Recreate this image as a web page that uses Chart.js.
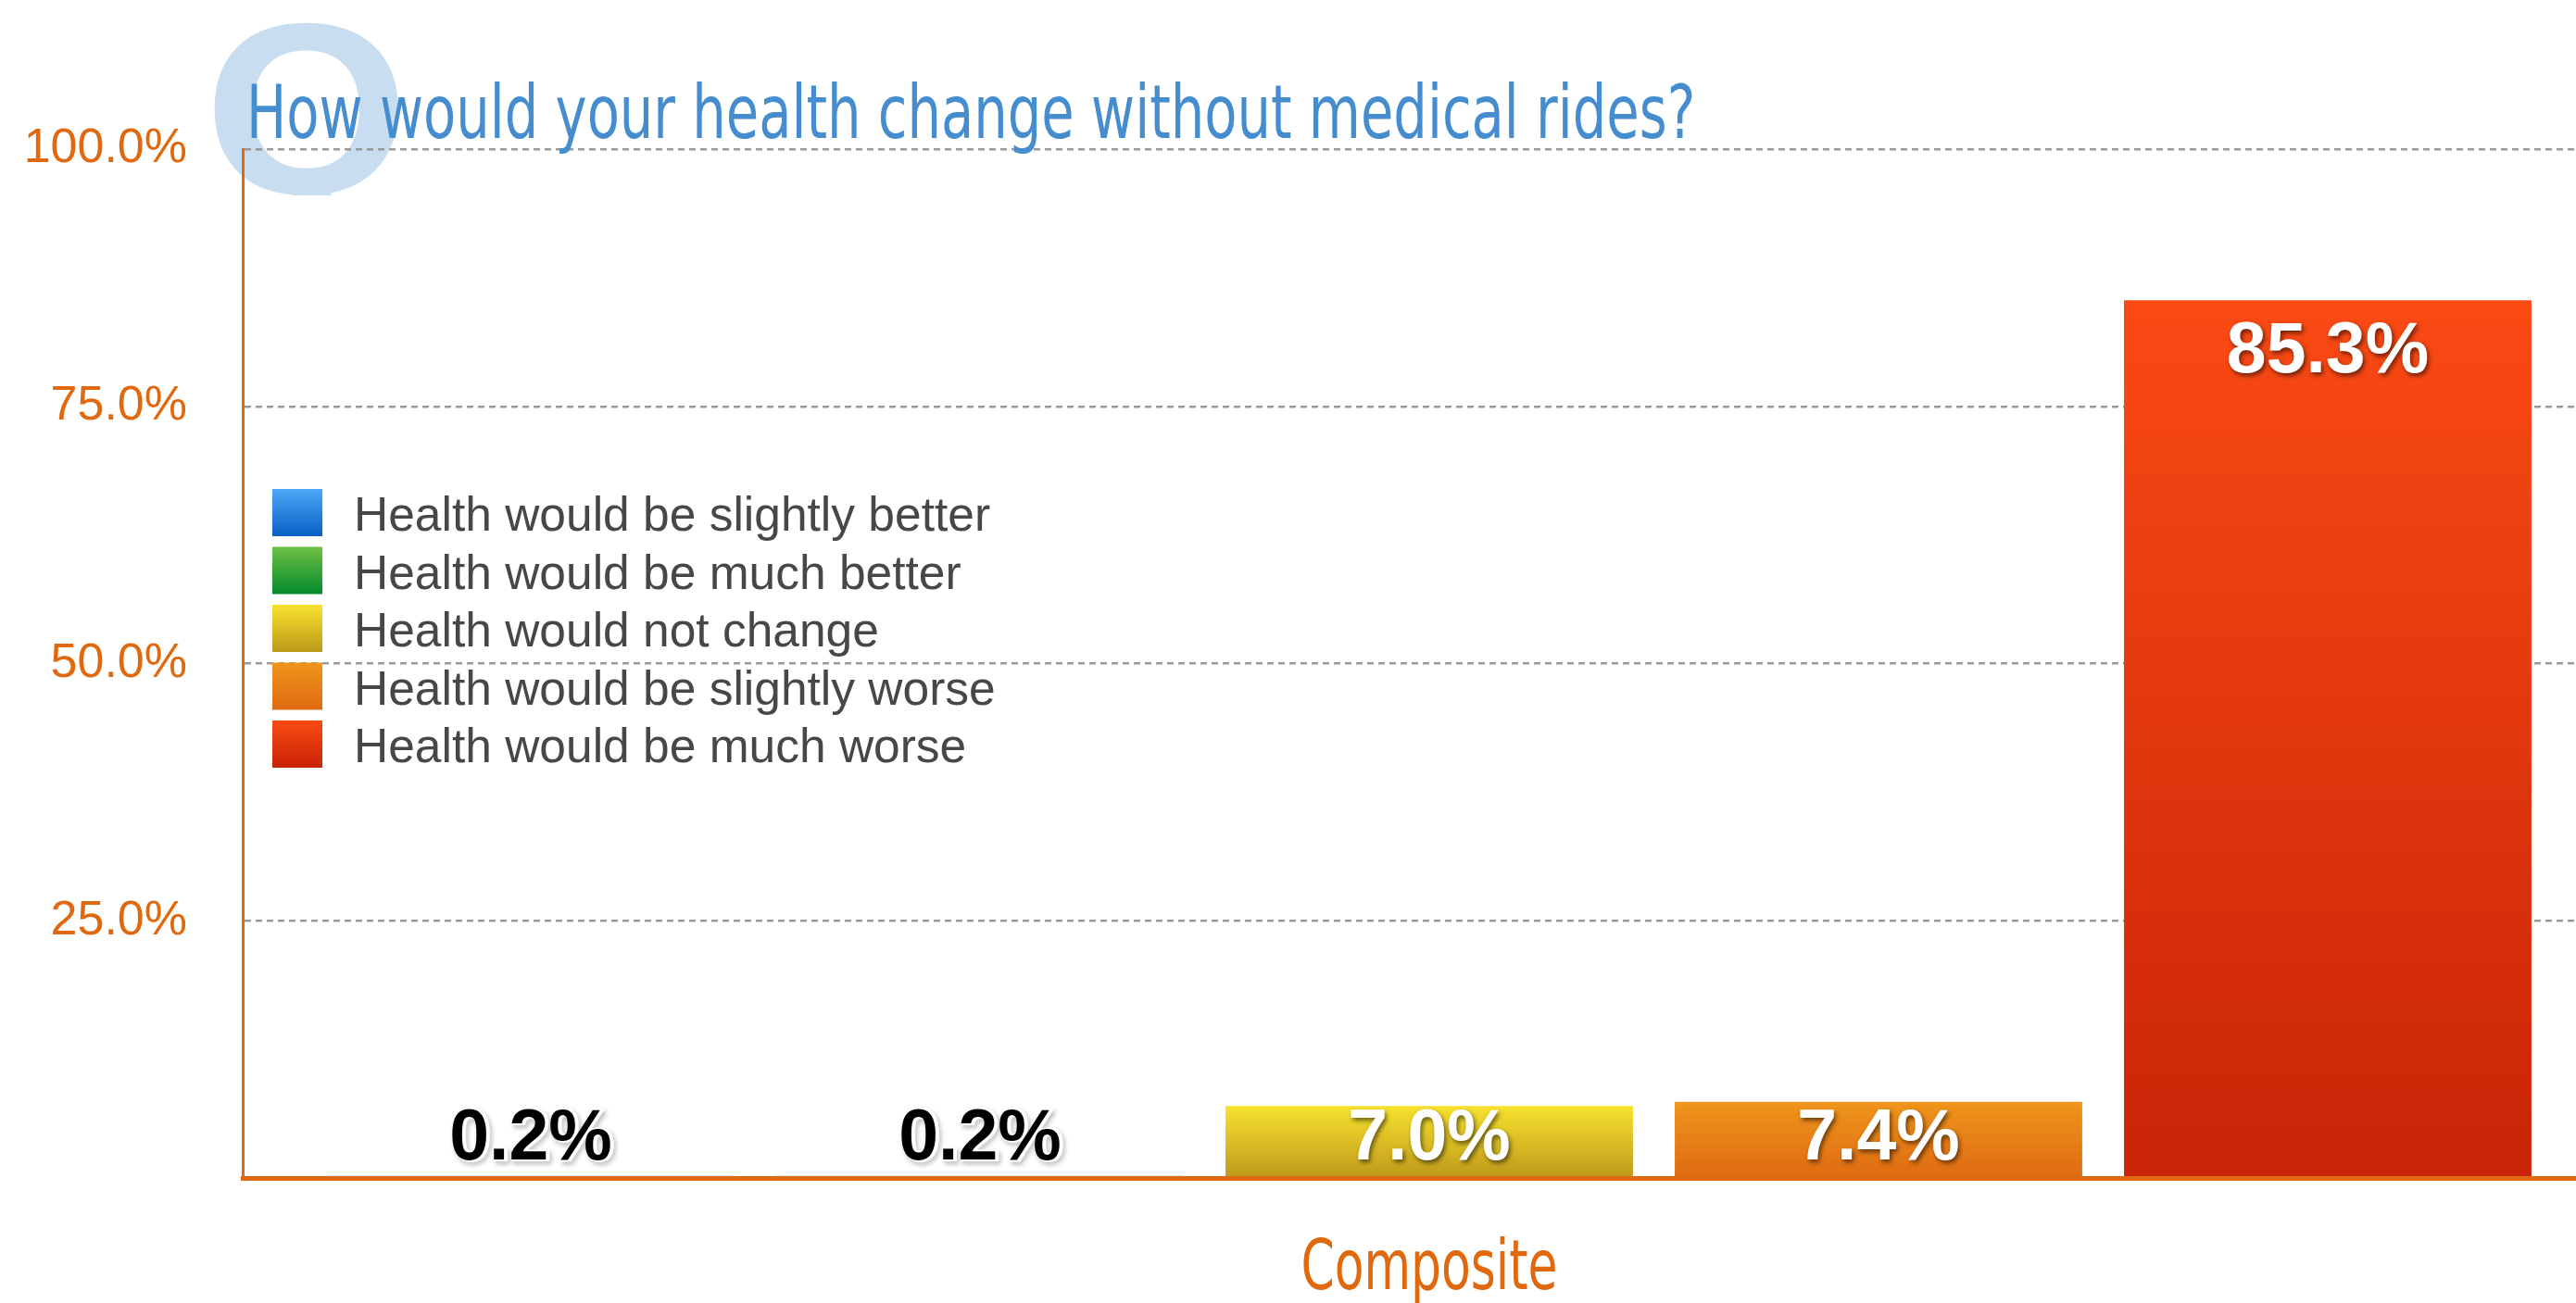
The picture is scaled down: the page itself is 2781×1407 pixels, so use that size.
<!DOCTYPE html>
<html>
<head>
<meta charset="utf-8">
<script src="https://cdn.jsdelivr.net/npm/chart.js@4.4.1/dist/chart.umd.min.js"></script>
<style>
  html, body { margin: 0; padding: 0; background: #fff; overflow: hidden; }
</style>
</head>
<body>
<canvas id="chart" width="2830" height="1407"></canvas>
<script>
const categories = ['Composite'];
const answers = [
  'Health would be slightly better',
  'Health would be much better',
  'Health would not change',
  'Health would be slightly worse',
  'Health would be much worse',
];
const shares = [0.2, 0.2, 7.0, 7.4, 85.3];
const yTicks = [25, 50, 75, 100];
const questionTitle = 'How would your health change without medical rides?';

const topColors = ['#4DA8F8', '#6EC044', '#F8E22E', '#EF951C', '#FA4A14'];
const bottomColors = ['#0560C4', '#048A2C', '#BD991A', '#DF6A12', '#C92408'];
const labelColors = ['#000', '#000', '#fff', '#fff', '#fff'];

const ORANGE = '#E0690F';
const CONDENSED = '"DejaVu Sans Condensed", "DejaVu Sans", sans-serif';
const SANS = '"Liberation Sans", Arial, sans-serif';

function barGradient(context, i) {
  const chart = context.chart;
  const y = chart.scales.y;
  if (!y || !chart.chartArea) return topColors[i];
  const top = y.getPixelForValue(context.raw ?? 0);
  const base = y.getPixelForValue(0);
  const g = chart.ctx.createLinearGradient(0, top, 0, base);
  g.addColorStop(0, topColors[i]);
  g.addColorStop(1, bottomColors[i]);
  return g;
}

// squeezed text, the original uses a condensed face
function narrowText(ctx, text, x, y, font, sx, align) {
  ctx.save();
  ctx.font = font;
  ctx.textAlign = align || 'left';
  ctx.textBaseline = 'alphabetic';
  ctx.translate(x, y);
  ctx.scale(sx, 1);
  ctx.fillText(text, 0, 0);
  ctx.restore();
}

// big pale "Q" behind the title
const bigQ = {
  id: 'bigQ',
  beforeDraw(chart) {
    const { ctx, chartArea } = chart;
    ctx.save();
    ctx.beginPath();
    ctx.rect(0, 0, chartArea.left + 300, 211);
    ctx.clip();
    ctx.font = 'bold 264px ' + SANS;
    ctx.fillStyle = '#C8DDF0';
    ctx.textAlign = 'left';
    ctx.textBaseline = 'alphabetic';
    ctx.translate(chartArea.left - 42, 209);
    ctx.scale(1.08, 1);
    ctx.fillText('Q', 0, 0);
    ctx.restore();
  },
};

// question title and category label
const texts = {
  id: 'texts',
  beforeDatasetsDraw(chart) {
    const { ctx, chartArea, scales } = chart;
    ctx.save();
    ctx.fillStyle = '#468DD0';
    narrowText(ctx, questionTitle, chartArea.left + 4, 149, '80px ' + CONDENSED, 0.8);
    ctx.fillStyle = ORANGE;
    chart.data.labels.forEach((lab, i) => {
      narrowText(ctx, lab, scales.x.getPixelForTick(i), 1392, '74px ' + CONDENSED, 0.78, 'center');
    });
    ctx.restore();
  },
};

// legend inside the plot, left side
const insideLegend = {
  id: 'insideLegend',
  afterDatasetsDraw(chart) {
    const { ctx, chartArea } = chart;
    const x = chartArea.left + 32;
    const y0 = chartArea.top + 367;
    ctx.save();
    ctx.font = '51.5px ' + SANS;
    ctx.textAlign = 'left';
    ctx.textBaseline = 'alphabetic';
    chart.data.datasets.forEach((ds, i) => {
      const top = y0 + i * 62.5;
      const g = ctx.createLinearGradient(0, top, 0, top + 51);
      g.addColorStop(0, topColors[i]);
      g.addColorStop(1, bottomColors[i]);
      ctx.fillStyle = g;
      ctx.fillRect(x, top, 54, 51);
      ctx.fillStyle = '#474747';
      ctx.fillText(ds.label, x + 88, top + 45);
    });
    ctx.restore();
  },
};

// value labels on the bars
const valueLabels = {
  id: 'valueLabels',
  afterDatasetsDraw(chart) {
    const { ctx } = chart;
    const base = chart.scales.y.getPixelForValue(0);
    ctx.save();
    ctx.font = 'bold 77px ' + SANS;
    ctx.textAlign = 'center';
    ctx.textBaseline = 'alphabetic';
    chart.data.datasets.forEach((ds, i) => {
      chart.getDatasetMeta(i).data.forEach((el, j) => {
        const txt = ds.data[j].toFixed(1) + '%';
        const yb = Math.min(el.y + 78, base - 20);
        ctx.save();
        if (labelColors[i] === '#000') {
          ctx.shadowColor = 'rgba(0,0,0,0.3)';
          ctx.shadowOffsetX = 2;
          ctx.shadowOffsetY = 3;
          ctx.shadowBlur = 5;
          ctx.strokeStyle = '#fff';
          ctx.lineWidth = 4;
          ctx.strokeText(txt, el.x + 2, yb);
          ctx.shadowColor = 'transparent';
        } else {
          ctx.shadowColor = 'rgba(0,0,0,0.55)';
          ctx.shadowOffsetX = 2;
          ctx.shadowOffsetY = 3;
          ctx.shadowBlur = 5;
        }
        ctx.fillStyle = labelColors[i];
        ctx.fillText(txt, el.x, yb);
        ctx.restore();
      });
    });
    ctx.restore();
  },
};

const ctx = document.getElementById('chart').getContext('2d');
new Chart(ctx, {
  type: 'bar',
  data: {
    labels: categories,
    datasets: answers.map((label, i) => ({
      label: label,
      data: [shares[i]],
      backgroundColor: (c) => barGradient(c, i),
      borderWidth: 0,
      barPercentage: 0.907,
      categoryPercentage: 0.9465,
    })),
  },
  options: {
    responsive: false,
    animation: false,
    layout: { padding: { left: 29, right: 6, top: 161, bottom: 0 } },
    plugins: {
      legend: { display: false },
      tooltip: { enabled: false },
      title: { display: false },
    },
    scales: {
      y: {
        min: 0,
        max: 100,
        afterBuildTicks: (axis) => {
          axis.ticks = yTicks.map((v) => ({ value: v }));
        },
        afterFit: (axis) => {
          axis.width = 233;
        },
        ticks: {
          color: ORANGE,
          padding: 60,
          font: { family: SANS, size: 52 },
          callback: (v) => v.toFixed(1) + '%',
        },
        grid: {
          color: '#9a9a9a',
          lineWidth: 2.5,
          drawTicks: false,
        },
        border: { display: true, color: ORANGE, width: 3, dash: [7, 5] },
      },
      x: {
        afterFit: (axis) => {
          axis.height = 135;
        },
        ticks: { display: false },
        grid: { display: false, drawTicks: false },
        border: { display: true, color: ORANGE, width: 5, z: 1 },
      },
    },
  },
  plugins: [bigQ, texts, insideLegend, valueLabels],
});
</script>
</body>
</html>
